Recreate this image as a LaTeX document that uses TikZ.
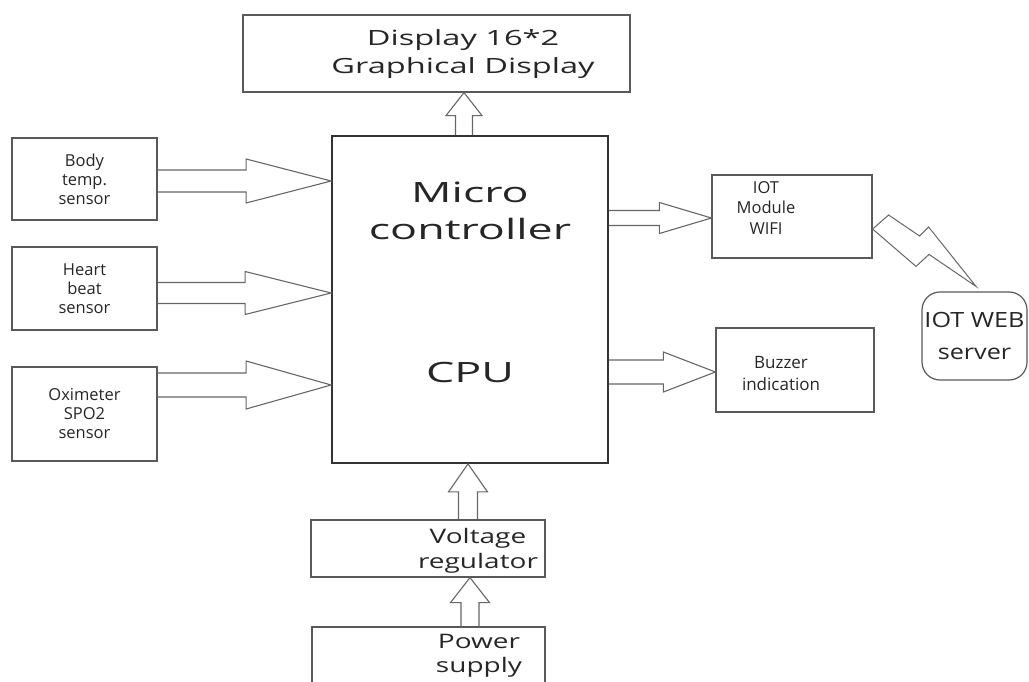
\documentclass[tikz,border=0pt]{standalone}
\usepackage{fontspec}
\setmainfont{Open Sans}
% the larger labels are set wide, as in the drawing
\newfontfamily\dispfont[FakeStretch=1.55]{Open Sans}
\newfontfamily\cpufont[FakeStretch=1.6]{Open Sans}
\newfontfamily\regfont[FakeStretch=1.4]{Open Sans}
\newfontfamily\webfont[FakeStretch=1.2]{Open Sans}
\usetikzlibrary{positioning}
\usetikzlibrary{calc}

% block arrow: tail, tip, half shaft, half head, head length
\newcommand{\fatarrow}[5]{%
  \coordinate (hb) at ($(#2)!#5pt!(#1)$);
  \draw[blk] ($(#1)!#3pt!90:(#2)$) -- ($(hb)!#3pt!-90:(#1)$) -- ($(hb)!#4pt!-90:(#1)$) -- (#2)
    -- ($(hb)!#4pt!90:(#1)$) -- ($(hb)!#3pt!90:(#1)$) -- ($(#1)!#3pt!-90:(#2)$);
}

\begin{document}
\begin{tikzpicture}[x=1pt, y=-1pt,
    box/.style={rectangle, draw=black!65, line width=1.2pt, inner sep=0pt, align=center, text=black!85},
    lbl/.style={text=black!85, align=center},
    sensor/.style={box, minimum width=145pt, font=\fontsize{16.5}{19}\selectfont},
    blk/.style={draw=black!60, line width=1.1pt, line join=miter}]
        \useasboundingbox (0,0) rectangle (1029,682);
        \clip (0,0) rectangle (1029,682);

        % Central unit and display
        \node[box, draw=black!80, line width=1.8pt, minimum width=276pt, minimum height=327pt] (cpu) at (470,299.5) {};
        \node[lbl, font=\cpufont\fontsize{28}{37}\selectfont] (cputxt) at (470,211) {Micro\\controller};
        \node[lbl, font=\cpufont\fontsize{28}{37}\selectfont] (cpulbl) at (470,372) {CPU};
        \node[box, minimum width=387pt, minimum height=77pt] (disp) at (436.5,53.5) {};
        \node[lbl, font=\dispfont\fontsize{21}{28}\selectfont] (disptxt) at (463,54) {Display 16*2\\Graphical Display};

        % Sensors on the left
        \node[sensor, minimum height=82pt] (body) at (84.5,179) {Body\\temp.\\sensor};
        \node[sensor, minimum height=83pt] (heart) at (84.5,288.5) {Heart\\beat\\sensor};
        \node[sensor, minimum height=94pt] (oxi) at (84.5,414) {Oximeter\\SPO2\\sensor};

        % Outputs on the right
        \node[box, minimum width=160pt, minimum height=83pt] (iot) at (792,216.5) {};
        \node[lbl, font=\fontsize{16.5}{20.5}\selectfont] (iottxt) at (766,208) {IOT\\Module\\WIFI};
        \node[box, minimum width=158pt, minimum height=84pt] (buzz) at (795,370) {};
        \node[lbl, font=\fontsize{17}{22}\selectfont] (buzztxt) at (781,374) {Buzzer\\indication};
        \node[box, rounded corners=18pt, minimum width=105pt, minimum height=88pt, font=\webfont\fontsize{21}{32}\selectfont] (web) at (974.5,336) {IOT WEB\\server};

        % Supply chain at the bottom
        \node[box, minimum width=234pt, minimum height=57pt] (vr) at (428,548.5) {};
        \node[lbl, font=\regfont\fontsize{20}{25}\selectfont] (vrtxt) at (478,551) {Voltage\\regulator};
        \node[box, minimum width=233pt, minimum height=120pt] (ps) at (428.5,687) {};
        \node[lbl, font=\regfont\fontsize{20}{24}\selectfont] (pstxt) at (479,656) {Power\\supply};

        % Block arrows
        \coordinate (t1) at ([yshift=-2pt]body.east);
        \coordinate (h1) at (cpu.west |- t1);
        \fatarrow{t1}{h1}{11}{22}{85}
        \coordinate (t2) at ([yshift=-4.5pt]heart.east);
        \coordinate (h2) at (cpu.west |- t2);
        \fatarrow{t2}{h2}{10.5}{21.5}{86}
        \coordinate (t3) at ([yshift=29pt]oxi.east);
        \coordinate (h3) at (cpu.west |- t3);
        \fatarrow{t3}{h3}{12}{24}{85}
        \coordinate (h4) at ([yshift=-1.5pt]iot.west);
        \coordinate (t4) at (cpu.east |- h4);
        \fatarrow{t4}{h4}{7.5}{15.5}{52}
        \coordinate (h5) at ([yshift=-2pt]buzz.west);
        \coordinate (t5) at (cpu.east |- h5);
        \fatarrow{t5}{h5}{12}{20}{52}
        \coordinate (h6) at ([xshift=27.5pt]disp.south);
        \coordinate (t6) at (h6 |- cpu.north);
        \fatarrow{t6}{h6}{8.5}{18}{23}
        \coordinate (t7) at ([xshift=40pt]vr.north);
        \coordinate (h7) at (t7 |- cpu.south);
        \fatarrow{t7}{h7}{9.5}{19.5}{28}
        \coordinate (t8) at ([xshift=41.5pt]ps.north);
        \coordinate (h8) at (t8 |- vr.south);
        \fatarrow{t8}{h8}{9}{19.5}{25}

        % Wireless link
        \coordinate (z0) at ([yshift=-12.5pt]iot.east);
        \coordinate (z1) at ([xshift=1.5pt, yshift=5pt]web.north);
        \draw[blk, line width=1pt] (z0) -- +(16,-14) -- +(47,7) -- +(56,-2) -- (z1) -- +(-47,-32) -- +(-60,-20) -- cycle;
\end{tikzpicture}
\end{document}
